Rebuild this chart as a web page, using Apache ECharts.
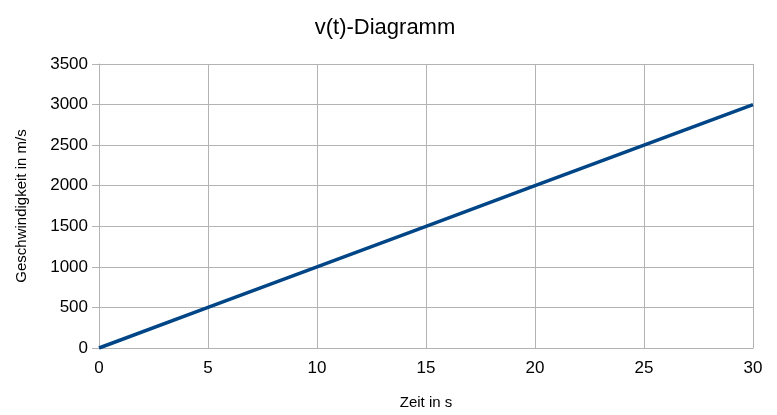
<!DOCTYPE html>
<html>
<head>
<meta charset="utf-8">
<script src="https://cdn.jsdelivr.net/npm/echarts@6/dist/echarts.min.js"></script>
<style>html,body{margin:0;padding:0;background:#fff}#c{width:777px;height:415px}</style>
</head>
<body>
<div id="c"></div>
<script>
var titleText = 'v(t)-Diagramm';
var xName = 'Zeit in s';
var yName = 'Geschwindigkeit in m/s';
var timeValues = [0, 5, 10, 15, 20, 25, 30];
var speedValues = [0, 500, 1000, 1500, 2000, 2500, 3000];

var chart = echarts.init(document.getElementById('c'));
var gridColor = '#b3b3b3';
var font = '"Liberation Sans", Arial, sans-serif';
chart.setOption({
  animation: false,
  backgroundColor: '#fff',
  title: {
    text: titleText, left: 380, top: 12, textAlign: 'center',
    textStyle: { fontFamily: font, fontSize: 22, fontWeight: 'normal', color: '#000' }
  },
  grid: { left: 99, width: 654, top: 64, height: 286, containLabel: false },
  xAxis: {
    type: 'value', min: 0, max: 30, interval: 5,
    name: xName, nameLocation: 'middle', nameGap: 47,
    nameTextStyle: { fontFamily: font, fontSize: 15, color: '#000' },
    axisLine: { show: true, lineStyle: { color: gridColor, width: 1 } },
    axisTick: { show: false },
    axisLabel: { margin: 12, fontFamily: font, fontSize: 17, color: '#000' },
    splitLine: { show: true, lineStyle: { color: gridColor, width: 1 } }
  },
  yAxis: {
    type: 'value', min: 0, max: 3500, interval: 500,
    name: yName, nameLocation: 'middle', nameGap: 70, nameRotate: 90,
    nameTextStyle: { fontFamily: font, fontSize: 15, color: '#000' },
    axisLine: { show: true, lineStyle: { color: gridColor, width: 1 } },
    axisTick: { show: true, length: 7, lineStyle: { color: gridColor, width: 1 } },
    axisLabel: { margin: 11, fontFamily: font, fontSize: 17, color: '#000',
      formatter: function (v) { return String(v); } },
    splitLine: { show: true, lineStyle: { color: gridColor, width: 1 } }
  },
  series: [{
    type: 'line',
    data: timeValues.map(function (t, i) { return [t, speedValues[i]]; }),
    showSymbol: false, symbol: 'none',
    lineStyle: { color: '#004586', width: 3.5 },
    itemStyle: { color: '#004586' }
  }]
});
</script>
</body>
</html>
